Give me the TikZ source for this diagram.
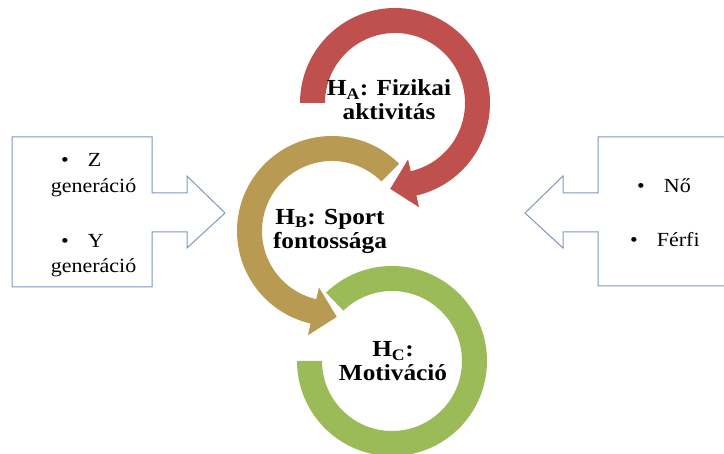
\documentclass[tikz,border=0pt]{standalone}
\usepackage{fontspec}
\setmainfont{Liberation Serif}[FakeStretch=1.1]
\usetikzlibrary{calc}
\definecolor{ringred}{HTML}{C0504D}
\definecolor{ringgold}{HTML}{B99A52}
\definecolor{ringgreen}{HTML}{9BBB59}
\definecolor{boxline}{HTML}{7F98BE}
\tikzset{
  title/.style={font=\fontsize{23}{24}\selectfont\bfseries, align=center, anchor=center, inner sep=0pt},
  item/.style={font=\fontsize{20}{22}\selectfont, anchor=base, inner sep=0pt},
  bulletitem/.style={font=\fontsize{20}{22}\selectfont, anchor=base west, inner sep=0pt},
  callout/.style={draw=boxline, line width=1pt, fill=white}
}
\begin{document}
\begin{tikzpicture}[x=1pt,y=1pt]
\useasboundingbox (0,0) rectangle (724,454);
\clip (0,0) rectangle (724,454);
\fill[white] (0,0) rectangle (724,454);
% callouts
\draw[callout] (12,317) -- (152,317) -- (152,261) -- (187,261) -- (187,278) -- (225,241)
  -- (187,206) -- (187,222) -- (152,222) -- (152,167) -- (12,167) -- cycle;
\draw[callout] (740,317) -- (598,317) -- (598,261) -- (563,261) -- (563,278) -- (525,241)
  -- (563,206) -- (563,222) -- (598,222) -- (598,168) -- (740,168);
% ring centres
\coordinate (cA) at (395,351);
\coordinate (cB) at (332,223);
\coordinate (cC) at (392,93);
% red ring
\fill[ringred] ($(cA)+(180:95)$) arc[start angle=180,end angle=-77,radius=95]
  -- ($(cA)+(-77:107)$) -- ($(cA)+(-93.2:86)$) -- ($(cA)+(-77:58)$)
  -- ($(cA)+(-77:70)$) arc[start angle=-77,end angle=180,radius=70] -- cycle;
% gold ring
\fill[ringgold] ($(cB)+(45:95)$) arc[start angle=45,end angle=257,radius=95]
  -- ($(cB)+(257:107)$) -- ($(cB)+(273.2:86)$) -- ($(cB)+(257:58)$)
  -- ($(cB)+(257:70)$) arc[start angle=257,end angle=45,radius=70] -- cycle;
% green ring
\fill[ringgreen] ($(cC)+(134:95)$) arc[start angle=134,end angle=-180,radius=95]
  -- ($(cC)+(180:70)$) arc[start angle=-180,end angle=134,radius=70] -- cycle;
% titles
\node[title] (tA) at (389,354) {H\textsubscript{A}: Fizikai\\aktivitás};
\node[title] (tB) at (330,223) {H\textsubscript{B}: Sport\\fontossága};
\node[title] (tC) at (393,93) {H\textsubscript{C}:\\Motiváció};
% left items
\node[bulletitem] (z1) at (61,287) {\textbullet\hspace{19pt}Z};
\node[item] (z2) at (93.5,261) {generáció};
\node[bulletitem] (y1) at (61,206) {\textbullet\hspace{19pt}Y};
\node[item] (y2) at (93.5,181) {generáció};
% right items
\node[bulletitem] (n1) at (637,261) {\textbullet\hspace{19pt}Nő};
\node[bulletitem] (f1) at (630,207) {\textbullet\hspace{19pt}Férfi};
\end{tikzpicture}
\end{document}
